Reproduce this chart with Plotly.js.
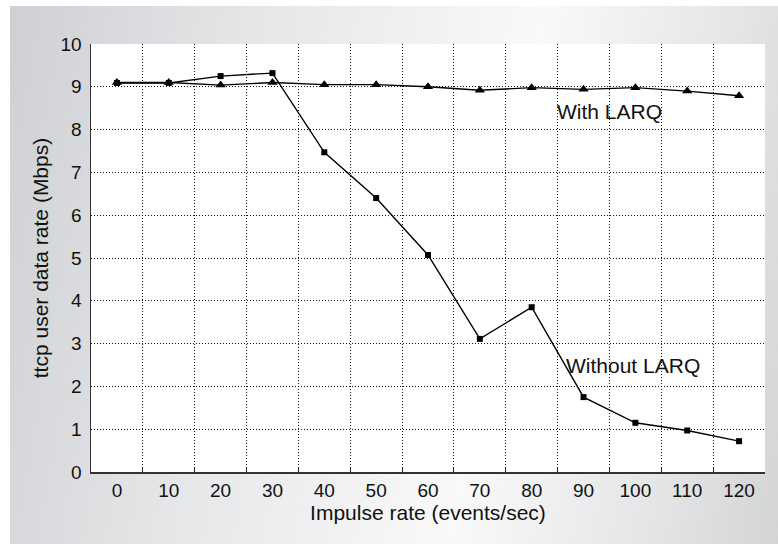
<!DOCTYPE html>
<html>
<head>
<meta charset="utf-8">
<script src="https://cdn.plot.ly/plotly-3.0.1.min.js"></script>
<style>
  html, body { margin: 0; padding: 0; background: #ffffff; }
  #bg { position: absolute; left: 10px; top: 6px; width: 768px; height: 538px;
        background: linear-gradient(100deg, #cfd0d3 0%, #e6e7e9 30%, #f9f9f9 62%, #e4e5e7 85%, #d3d4d6 100%); }
  #chart { position: absolute; left: 0; top: 0; width: 778px; height: 544px; }
</style>
</head>
<body>
<div id="bg"></div>
<div id="chart"></div>
<script>
const impulseRates = ['0','10','20','30','40','50','60','70','80','90','100','110','120'];
const withoutLARQ = [9.09, 9.09, 9.25, 9.32, 7.47, 6.40, 5.07, 3.11, 3.85, 1.75, 1.15, 0.97, 0.72];
const withLARQ    = [9.10, 9.10, 9.04, 9.10, 9.05, 9.05, 9.00, 8.92, 8.98, 8.94, 8.98, 8.90, 8.79];
const yTicks = [0,1,2,3,4,5,6,7,8,9,10];

const FONT = '"Liberation Sans", Arial, Helvetica, sans-serif';

const traces = [
  {
    x: impulseRates, y: withoutLARQ, type: 'scatter', mode: 'lines+markers',
    name: 'Without LARQ',
    line: {color: '#000000', width: 1.4},
    marker: {symbol: 'square', size: 6, color: '#000000'}
  },
  {
    x: impulseRates, y: withLARQ, type: 'scatter', mode: 'lines+markers',
    name: 'With LARQ',
    line: {color: '#000000', width: 1.4},
    marker: {symbol: 'triangle-up', size: 9, color: '#000000'}
  }
];

const layout = {
  width: 778, height: 544,
  paper_bgcolor: 'rgba(0,0,0,0)',
  plot_bgcolor: '#ffffff',
  showlegend: false,
  margin: {l: 90.5, r: 13, t: 44, b: 72, pad: 0},
  font: {family: FONT, color: '#111111', size: 19},
  xaxis: {
    type: 'category',
    range: [-0.5, 12.5],
    tickson: 'boundaries',
    ticks: 'inside', ticklen: 4, tickcolor: '#222',
    showgrid: true, gridcolor: '#111111', griddash: '1px,2px', gridwidth: 1,
    showline: true, linecolor: '#333333', linewidth: 1.5,
    zeroline: false,
    tickfont: {size: 19, family: FONT, color: '#111'},
    ticklabelstandoff: 1,
    title: {text: 'Impulse rate (events/sec)', font: {size: 21, family: FONT, color: '#111'}, standoff: 3},
    fixedrange: true
  },
  yaxis: {
    range: [0, 10],
    tickvals: yTicks,
    ticktext: yTicks.map(String),
    ticks: '',
    showgrid: true, gridcolor: '#111111', griddash: '1px,2px', gridwidth: 1,
    showline: true, linecolor: '#333333', linewidth: 1.5,
    zeroline: false,
    tickfont: {size: 19, family: FONT, color: '#111'},
    ticklabelstandoff: 4,
    title: {text: 'ttcp user data rate (Mbps)', font: {size: 21, family: FONT, color: '#111'}, standoff: 6},
    fixedrange: true
  },
  annotations: [
    {x: 9.51, y: 8.42, xref: 'x', yref: 'y', text: 'With LARQ', showarrow: false,
     font: {size: 21, family: FONT, color: '#111'}, xanchor: 'center', yanchor: 'middle'},
    {x: 9.95, y: 2.49, xref: 'x', yref: 'y', text: 'Without LARQ', showarrow: false,
     font: {size: 21, family: FONT, color: '#111'}, xanchor: 'center', yanchor: 'middle'}
  ]
};

Plotly.newPlot('chart', traces, layout, {displayModeBar: false, staticPlot: true});
</script>
</body>
</html>
